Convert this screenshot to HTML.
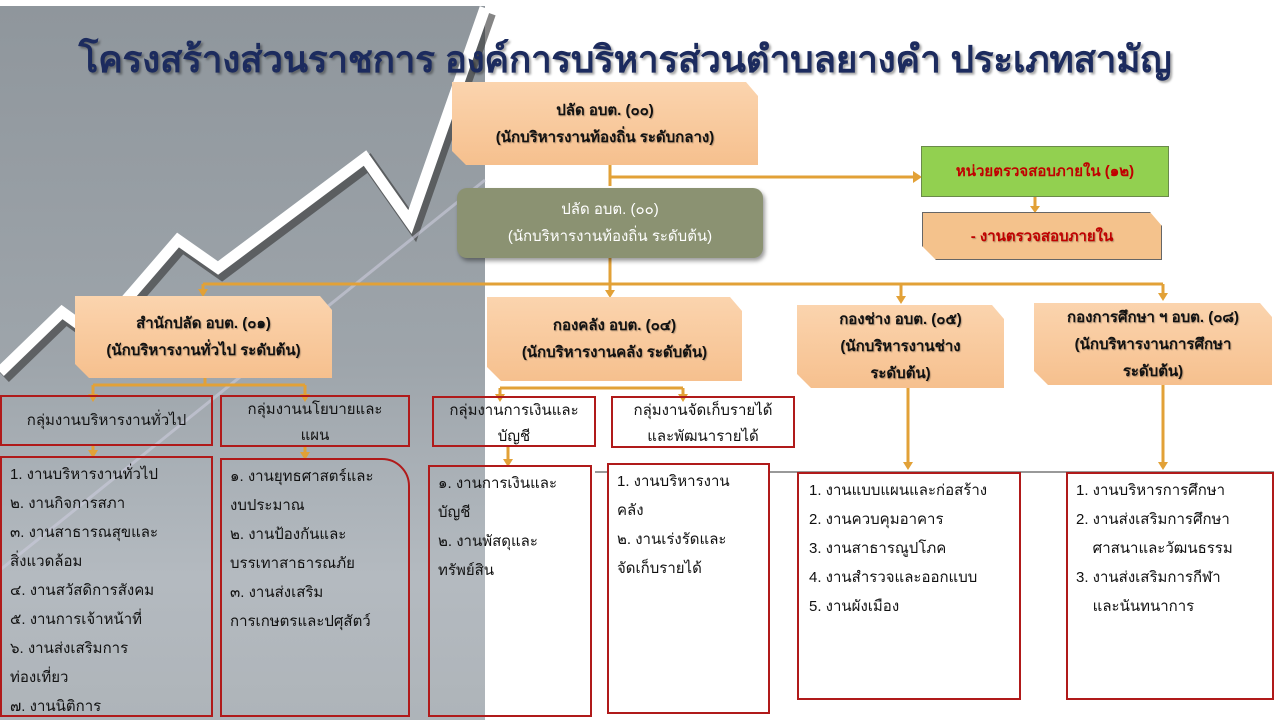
<!DOCTYPE html>
<html><head><meta charset="utf-8"><style>
*{margin:0;padding:0;box-sizing:border-box}
body{width:1280px;height:720px;position:relative;overflow:hidden;background:#fff;font-family:"Liberation Sans","DejaVu Sans",sans-serif;color:#111}
.a{position:absolute}
.photo{left:0;top:6px;width:485px;height:714px;background:linear-gradient(180deg,#8f969c 0%,#989fa5 30%,#9ea5ab 50%,#a9b0b6 65%,#b4bac0 80%,#aeb4b9 100%)}
.peach{background:linear-gradient(180deg,#fbd4ae,#f6c08e);clip-path:polygon(0 0,calc(100% - 12px) 0,100% 14px,100% 100%,14px 100%,0 calc(100% - 14px));text-align:center;font-size:15px;font-weight:bold;display:flex;flex-direction:column;justify-content:center;line-height:27px;text-shadow:1px 1px 1px rgba(0,0,0,.25)}
.rb{border:2px solid #b01a1a;font-size:15px;line-height:29px}
.hd{text-align:center;line-height:26px;font-size:15px}
.lst{padding:2px 8px;font-size:15px;line-height:29px}
</style></head><body>
<div class="a photo"></div>
<svg class="a" style="left:0;top:0" width="1280" height="720">
<polyline points="0,372 62,312 95,336 178,240 218,268 365,158 410,222 485,8" fill="none" stroke="#333" stroke-width="14" transform="translate(4,5)" opacity=".6"/>
<polyline points="0,372 62,312 95,336 178,240 218,268 365,158 410,222 485,8" fill="none" stroke="#fff" stroke-width="11"/>
<line x1="0" y1="570" x2="485" y2="180" stroke="#ccd" stroke-width="3" opacity=".6"/>
<g stroke="#e2a137" stroke-width="3" fill="none">
<line x1="610" y1="165" x2="610" y2="186"/>
<line x1="610" y1="177" x2="913" y2="177"/>
<line x1="1035" y1="197" x2="1035" y2="210"/>
<line x1="610" y1="258" x2="610" y2="295"/>
<line x1="203" y1="284" x2="1163" y2="284"/>
<line x1="203" y1="284" x2="203" y2="294"/>
<line x1="901" y1="284" x2="901" y2="300"/>
<line x1="1163" y1="284" x2="1163" y2="298"/>
<line x1="205" y1="378" x2="205" y2="385"/>
<line x1="93" y1="385" x2="305" y2="385"/>
<line x1="93" y1="385" x2="93" y2="398"/>
<line x1="305" y1="385" x2="305" y2="398"/>
<line x1="500" y1="388" x2="683" y2="388"/>
<line x1="500" y1="388" x2="500" y2="398"/>
<line x1="683" y1="388" x2="683" y2="398"/>
<line x1="93" y1="446" x2="93" y2="454"/>
<line x1="305" y1="447" x2="305" y2="456"/>
<line x1="508" y1="447" x2="508" y2="463"/>
<line x1="908" y1="388" x2="908" y2="466"/>
<line x1="1163" y1="385" x2="1163" y2="466"/>
</g>
<g fill="#e2a137">
<polygon points="913,171 922,177 913,183"/>
<polygon points="1030,206 1040,206 1035,213"/>
<polygon points="605,290 615,290 610,298"/>
<polygon points="198,289 208,289 203,297"/>
<polygon points="896,296 906,296 901,304"/>
<polygon points="1158,293 1168,293 1163,301"/>
<polygon points="88,394 98,394 93,402"/><polygon points="300,394 310,394 305,402"/>
<polygon points="495,394 505,394 500,402"/><polygon points="678,394 688,394 683,402"/>
<polygon points="88,450 98,450 93,458"/><polygon points="300,452 310,452 305,460"/>
<polygon points="503,459 513,459 508,467"/><polygon points="903,462 913,462 908,470"/><polygon points="1158,462 1168,462 1163,470"/>
</g>
<line x1="595" y1="472" x2="1274" y2="472" stroke="#333" stroke-width="1"/>
</svg>
<div class="a" style="left:50px;top:30px;width:1150px;text-align:center;font-size:37px;font-weight:bold;color:#1c2b5e;text-shadow:2px 2px 2px rgba(0,0,0,.35);white-space:nowrap;letter-spacing:-0.3px">โครงสร้างส่วนราชการ องค์การบริหารส่วนตำบลยางคำ ประเภทสามัญ</div>
<div class="a peach" style="left:452px;top:82px;width:306px;height:83px"><div>ปลัด อบต. (๐๐)</div><div>(นักบริหารงานท้องถิ่น ระดับกลาง)</div></div>
<div class="a" style="left:457px;top:188px;width:306px;height:70px;background:#8b9272;border-radius:10px;color:#fff;text-align:center;font-size:15px;line-height:27px;padding-top:8px;box-shadow:2px 3px 4px rgba(0,0,0,.4)">ปลัด อบต. (๐๐)<br>(นักบริหารงานท้องถิ่น ระดับต้น)</div>
<div class="a" style="left:921px;top:146px;width:248px;height:51px;background:#92d050;border:1px solid #6a8a4a;color:#c00000;font-weight:bold;font-size:15px;text-align:center;line-height:49px">หน่วยตรวจสอบภายใน (๑๒)</div>
<div class="a peach" style="left:922px;top:212px;width:240px;height:48px;background:#f4c28c;color:#c00000;border:1px solid #666">- งานตรวจสอบภายใน</div>
<div class="a peach" style="left:75px;top:296px;width:257px;height:82px"><div>สำนักปลัด อบต. (๐๑)</div><div>(นักบริหารงานทั่วไป ระดับต้น)</div></div>
<div class="a peach" style="left:487px;top:297px;width:255px;height:84px"><div>กองคลัง อบต. (๐๔)</div><div>(นักบริหารงานคลัง ระดับต้น)</div></div>
<div class="a peach" style="left:797px;top:305px;width:207px;height:83px"><div>กองช่าง อบต. (๐๕)</div><div>(นักบริหารงานช่าง</div><div>ระดับต้น)</div></div>
<div class="a peach" style="left:1034px;top:303px;width:238px;height:82px"><div>กองการศึกษา ฯ อบต. (๐๘)</div><div>(นักบริหารงานการศึกษา</div><div>ระดับต้น)</div></div>
<div class="a rb hd" style="left:0;top:395px;width:213px;height:51px;line-height:47px">กลุ่มงานบริหารงานทั่วไป</div>
<div class="a rb hd" style="left:220px;top:395px;width:190px;height:52px">กลุ่มงานนโยบายและ<br>แผน</div>
<div class="a rb hd" style="left:432px;top:396px;width:164px;height:51px">กลุ่มงานการเงินและ<br>บัญชี</div>
<div class="a rb hd" style="left:611px;top:396px;width:184px;height:52px">กลุ่มงานจัดเก็บรายได้<br>และพัฒนารายได้</div>
<div class="a rb lst" style="left:0;top:456px;width:213px;height:261px">1. งานบริหารงานทั่วไป<br>๒. งานกิจการสภา<br>๓. งานสาธารณสุขและ<br>สิ่งแวดล้อม<br>๔. งานสวัสดิการสังคม<br>๕. งานการเจ้าหน้าที่<br>๖. งานส่งเสริมการ<br>ท่องเที่ยว<br>๗. งานนิติการ</div>
<div class="a rb lst" style="left:220px;top:458px;width:190px;height:259px;border-radius:0 28px 0 0">๑. งานยุทธศาสตร์และ<br>งบประมาณ<br>๒. งานป้องกันและ<br>บรรเทาสาธารณภัย<br>๓. งานส่งเสริม<br>การเกษตรและปศุสัตว์</div>
<div class="a rb lst" style="left:428px;top:465px;width:164px;height:252px;background:linear-gradient(90deg,transparent 57px,#fff 57px)">๑. งานการเงินและ<br>บัญชี<br>๒. งานพัสดุและ<br>ทรัพย์สิน</div>
<div class="a rb lst" style="left:607px;top:463px;width:163px;height:251px;background:#fff">1. งานบริหารงาน<br>คลัง<br>๒. งานเร่งรัดและ<br>จัดเก็บรายได้</div>
<div class="a rb lst" style="left:797px;top:472px;width:224px;height:228px;background:#fff;padding-left:10px">1. งานแบบแผนและก่อสร้าง<br>2. งานควบคุมอาคาร<br>3. งานสาธารณูปโภค<br>4. งานสำรวจและออกแบบ<br>5. งานผังเมือง</div>
<div class="a rb lst" style="left:1066px;top:472px;width:208px;height:228px;background:#fff">1. งานบริหารการศึกษา<br>2. งานส่งเสริมการศึกษา<br>&nbsp;&nbsp;&nbsp;&nbsp;ศาสนาและวัฒนธรรม<br>3. งานส่งเสริมการกีฬา<br>&nbsp;&nbsp;&nbsp;&nbsp;และนันทนาการ</div>
</body></html>
